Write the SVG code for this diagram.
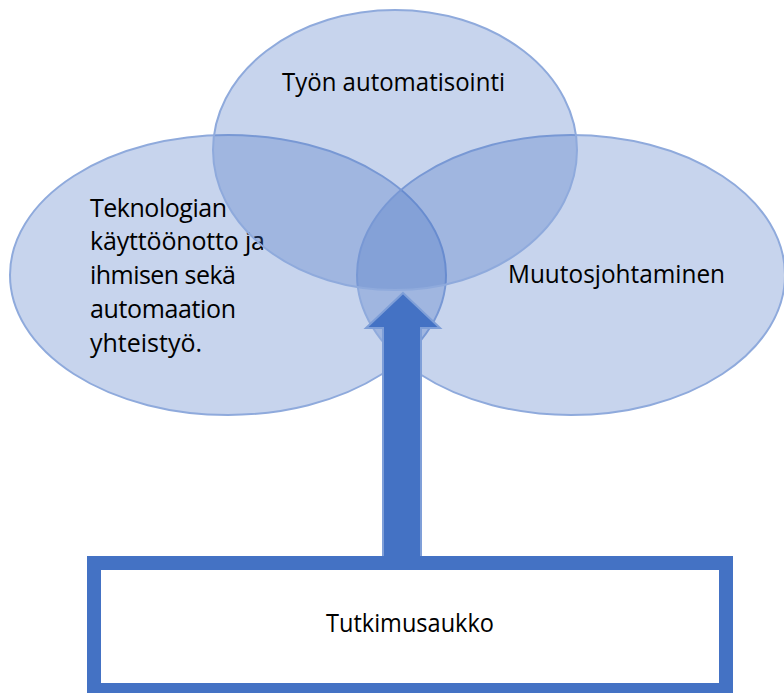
<svg xmlns="http://www.w3.org/2000/svg" width="784" height="693" viewBox="0 0 784 693">
<style>
.el{fill:#4472C4;fill-opacity:0.3;stroke:#8FAADC;stroke-width:2}
.t{font-family:"Open Sans","Noto Sans","Liberation Sans",sans-serif;font-size:25px;fill:#000}
</style>
<rect x="0" y="0" width="784" height="693" fill="#fff"/>
<g id="node-left">
<ellipse class="el" cx="228" cy="275" rx="218" ry="140"/>
<text class="t" lengthAdjust="spacingAndGlyphs"><tspan x="90" y="217" textLength="137">Teknologian</tspan><tspan x="90" y="250" textLength="175">käyttöönotto ja</tspan><tspan x="90" y="284" textLength="146">ihmisen sekä</tspan><tspan x="90" y="318" textLength="146">automaation</tspan><tspan x="90" y="352" textLength="112">yhteistyö.</tspan></text>
</g>
<g id="node-right">
<ellipse class="el" cx="571" cy="275" rx="214" ry="140"/>
<text class="t" x="508" y="283" textLength="217" lengthAdjust="spacingAndGlyphs">Muutosjohtaminen</text>
</g>
<g id="node-top">
<ellipse class="el" cx="395" cy="150" rx="182" ry="140"/>
<text class="t" x="282" y="91" textLength="223" lengthAdjust="spacingAndGlyphs">Työn automatisointi</text>
</g>
<g id="connectors">
<polygon points="403,293 440,328 421,328 421,557 383,557 383,328 366,328" fill="#4472C4" stroke="#7F9FD8" stroke-width="2" stroke-linejoin="miter"/>
</g>
<g id="node-bottom">
<rect x="94" y="563" width="632" height="127" fill="#fff" stroke="#4472C4" stroke-width="14"/>
<text class="t" x="326" y="632" textLength="168" lengthAdjust="spacingAndGlyphs">Tutkimusaukko</text>
</g>
</svg>
